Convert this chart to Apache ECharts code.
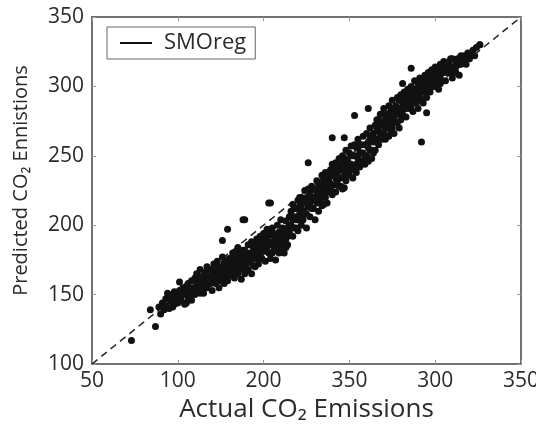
<!DOCTYPE html>
<html>
<head>
<meta charset="utf-8">
<script src="https://cdn.jsdelivr.net/npm/echarts@6/dist/echarts.min.js"></script>
<style>
  html, body { margin: 0; padding: 0; background: #fff; }
  #chart { width: 536px; height: 431px; }
</style>
</head>
<body>
<div id="chart"></div>
<script>
// tick labels as printed on the figure
const xTickLabels = ['50', '100', '200', '350', '300', '350'];
const yTickLabels = ['100', '150', '200', '250', '300', '350'];

// identity reference line (actual == predicted)
const refLine = [[100, 100], [350, 350]];

// [actual, predicted]
const lowTail = [
  [123,117],[134,139],[137,127],[144,151],[147,141],[151,159],[155,144]
];
const outliers = [
  [286,313],[292,260],[261,284],[253,279],[281,302],[295,281],[240,263],[247,263],
  [226,245],[204,216],[247,227],[235,215],[179,197],[188,204],[207,182],[198,176],
  [203,216],[176,189],[189,204],[321,324],[326,330]
];
const band1 = [
  [139,141],[140,136],[141,144],[142,139],[143,147],[143,142],[145,148],[145,140],[146,145],
  [147,150],[148,143],[148,152],[149,147],[150,144],[151,153],[151,149],[152,146],[153,155],
  [153,150],[154,143],[155,152],[156,158],[156,148],[157,153],[158,146],[158,160],[159,155],
  [160,150],[160,162]
];
const band2 = [
  [161,157],[161,165],[162,153],[163,160],[163,168],[164,156],[165,162],[165,151],[166,166],
  [166,159],[167,170],[167,155],[168,163],[169,158],[169,168],[170,161],[170,153],[171,172],
  [171,166],[172,158],[172,163],[173,174],[173,168],[174,160],[174,155],[175,170],[175,165],
  [176,177],[176,162],[177,168],[177,158],[178,174],[178,165],[179,170],[179,160],[180,176],
  [180,168]
];
const band3 = [
  [181,172],[181,164],[182,180],[182,169],[183,175],[183,162],[184,178],[184,170],[185,165],
  [185,184],[186,174],[186,168],[187,180],[187,161],[188,176],[188,170],[189,182],[189,165],
  [190,178],[190,172],[191,186],[191,168],[192,180],[192,174],[193,165],[193,188],[194,178],
  [194,171],[195,183],[195,176]
];
const band4 = [
  [196,190],[196,180],[197,172],[197,186],[198,183],[198,192],[199,176],[199,188],[200,181],
  [200,194],[201,174],[201,186],[202,190],[202,197],[203,180],[203,186],[204,193],[204,176],
  [205,188],[205,198],[206,182],[206,194],[207,190],[207,175],[208,200],[208,186],[209,195],
  [209,180],[210,191],[210,204],[211,185],[211,198],[212,194],[212,180],[213,203],[213,190],
  [214,198],[214,186],[215,206],[215,195]
];
const band5 = [
  [216,210],[216,200],[217,192],[217,215],[218,206],[218,198],[219,212],[219,204],[220,196],
  [220,218],[221,208],[221,214],[222,200],[222,220],[223,210],[223,204],[224,216],[224,225],
  [225,208],[225,198],[226,220],[226,213],[227,224],[227,206],[228,218],[228,228],[229,212],
  [229,220],[230,204],[230,226],[231,216],[231,232],[232,222],[232,210],[233,228],[233,218],
  [234,236],[234,214],[235,226],[235,232],[236,220],[236,238],[237,228],[237,216],[238,234],
  [238,224],[239,240],[239,230],[240,222],[240,244]
];
const band6 = [
  [241,236],[241,229],[242,245],[242,224],[243,238],[243,232],[244,248],[244,228],[245,240],
  [245,234],[246,250],[246,226],[247,244],[247,236],[248,254],[248,232],[249,246],[249,240],
  [250,236],[250,252],[251,244],[251,257],[252,240],[252,234],[253,250],[253,258],[254,244],
  [254,238],[255,262],[255,248],[256,252],[256,242],[257,258],[257,246],[258,264],[258,252],
  [259,244],[259,258],[260,266],[260,250],[261,256],[261,246],[262,262],[262,270],[263,254],
  [263,248],[264,266],[264,260],[265,272],[265,254]
];
const band7 = [
  [266,262],[266,276],[267,268],[267,258],[268,280],[268,272],[269,262],[269,274],[270,266],
  [270,284],[271,276],[271,262],[272,270],[272,280],[273,286],[273,264],[274,274],[274,282],
  [275,270],[275,290],[276,278],[276,266],[277,286],[277,274],[278,292],[278,280],[279,270],
  [279,284],[280,276],[280,294]
];
const band8 = [
  [281,288],[281,280],[282,296],[282,284],[283,290],[283,278],[284,298],[284,288],[285,284],
  [285,294],[286,300],[286,290],[287,282],[287,296],[288,292],[288,304],[289,288],[289,298],
  [290,294],[290,284],[291,306],[291,298],[292,290],[292,302],[293,298],[293,288],[294,308],
  [294,300],[295,292],[295,304],[296,300],[296,310],[297,296],[297,306],[298,304],[298,312],
  [299,300],[299,310],[300,306],[300,314],[301,304],[302,312],[302,298],[303,316],[303,308],
  [304,312],[304,304],[305,318],[305,310]
];
const band9 = [
  [306,312],[306,304],[307,316],[308,310],[308,318],[309,314],[310,306],[310,320],[311,314],
  [312,318],[312,310],[313,320],[314,316],[314,308],[315,322],[316,318],[317,322],[318,316],
  [319,324],[320,320],[321,324],[322,326],[323,322],[324,328],[326,330]
];
// extra points filling the dense middle of the cloud
const bandFill = [
  [146,149],[149,151],[152,150],[155,156],[157,149],[159,152],
  [162,160],[164,163],[166,155],[168,158],[170,167],[172,170],[174,166],[176,166],[178,161],
  [180,164],[163,151],[169,162],[175,161],[177,173],
  [182,176],[184,166],[186,180],[188,182],[190,168],[192,186],[194,184],[181,168],[183,180],
  [185,172],[187,176],[189,174],[191,178],[193,176],[195,170],
  [196,186],[198,178],[200,188],[202,182],[204,186],[206,188],[208,192],[210,184],[212,188],
  [214,192],[197,180],[199,192],[201,192],[203,195],[205,180],[207,184],[209,188],[211,192],
  [213,184],[215,200],
  [216,206],[218,212],[220,204],[222,212],[224,208],[226,226],[228,212],[230,220],[232,230],
  [234,224],[236,228],[238,230],[240,236],[217,204],[219,198],[221,220],[223,216],[225,220],
  [227,216],[229,226],[231,224],[233,222],[235,222],[237,236],[239,226],
  [241,240],[243,244],[245,228],[247,248],[249,236],[251,250],[253,242],[255,256],[257,252],
  [259,250],[261,260],[263,264],[265,262],[242,234],[244,240],[246,244],[248,240],[250,244],
  [252,250],[254,256],[256,258],[258,246],[260,258],[262,254],[264,252],
  [266,270],[268,264],[270,274],[272,274],[274,268],[276,284],[278,274],[280,284],[267,276],
  [269,280],[271,270],[273,278],[275,280],[277,280],[279,290],
  [281,294],[283,284],[285,290],[287,290],[289,294],[291,292],[293,304],[295,300],[297,300],
  [299,306],[301,310],[303,302],[282,290],[284,292],[286,286],[288,298],[290,302],[292,296],
  [294,296],[296,306],[298,308],[300,300],[302,306],[304,316],
  [307,310],[309,320],[311,310],[313,316],[315,316],[317,318],[319,320],[306,316],[308,314],
  [310,314],[312,314],[314,320]
];

const points = [].concat(lowTail, band1, band2, band3, band4, band5, band6, band7, band8, band9, bandFill, outliers);

const FONT = 'Open Sans';
const TEXT_COLOR = '#2b2b2b';
const FRAME_COLOR = '#444';

const chart = echarts.init(document.getElementById('chart'), null, { renderer: 'canvas' });

function frameAxis(extra) {
  return Object.assign({
    type: 'value',
    min: 100,
    max: 350,
    interval: 50,
    splitLine: { show: false },
    axisLine: { show: true, onZero: false, lineStyle: { color: FRAME_COLOR, width: 1.5 } },
    axisTick: { show: true, inside: true, length: 4, lineStyle: { color: '#999' } }
  }, extra);
}

const option = {
  backgroundColor: '#fff',
  animation: false,
  grid: {
    left: 92,
    right: 15,
    top: 17,
    bottom: 67,
    outerBoundsMode: 'none',
    containLabel: false
  },
  legend: {
    left: 107,
    top: 27,
    orient: 'horizontal',
    data: ['SMOreg'],
    icon: 'rect',
    itemWidth: 32,
    itemHeight: 2,
    itemGap: 0,
    padding: [5, 9, 5, 13],
    borderColor: '#666',
    borderWidth: 1,
    borderRadius: 0,
    backgroundColor: '#fff',
    textStyle: {
      fontFamily: FONT,
      fontSize: 22,
      color: TEXT_COLOR,
      padding: [0, 0, 0, 7]
    }
  },
  xAxis: [
    frameAxis({
      position: 'bottom',
      name: 'Actual CO₂ Emissions',
      nameLocation: 'middle',
      nameGap: 29,
      nameTextStyle: { fontFamily: FONT, fontSize: 26, color: TEXT_COLOR },
      axisLabel: {
        margin: 7,
        fontFamily: FONT,
        fontSize: 21,
        color: TEXT_COLOR,
        formatter: function (v) {
          return xTickLabels[Math.round((v - 100) / 50)];
        }
      }
    }),
    frameAxis({
      position: 'top',
      axisLabel: { show: false }
    })
  ],
  yAxis: [
    frameAxis({
      position: 'left',
      name: 'Predicted CO₂ Ennistions',
      nameLocation: 'middle',
      nameGap: 61,
      nameTextStyle: { fontFamily: FONT, fontSize: 20, color: TEXT_COLOR, padding: [0, 0, 0, 20] },
      axisLabel: {
        margin: 8,
        fontFamily: FONT,
        fontSize: 21,
        color: TEXT_COLOR,
        formatter: function (v) {
          return yTickLabels[Math.round((v - 100) / 50)];
        }
      }
    }),
    frameAxis({
      position: 'right',
      axisLabel: { show: false }
    })
  ],
  series: [
    {
      name: 'ref',
      type: 'line',
      data: refLine,
      symbol: 'none',
      silent: true,
      z: 1,
      lineStyle: { color: '#222', width: 1.5, type: [7, 5] }
    },
    {
      name: 'SMOreg',
      type: 'scatter',
      data: points,
      symbol: 'circle',
      symbolSize: 7,
      z: 2,
      itemStyle: { color: '#111', opacity: 1 }
    }
  ]
};

chart.setOption(option);
</script>
</body>
</html>
